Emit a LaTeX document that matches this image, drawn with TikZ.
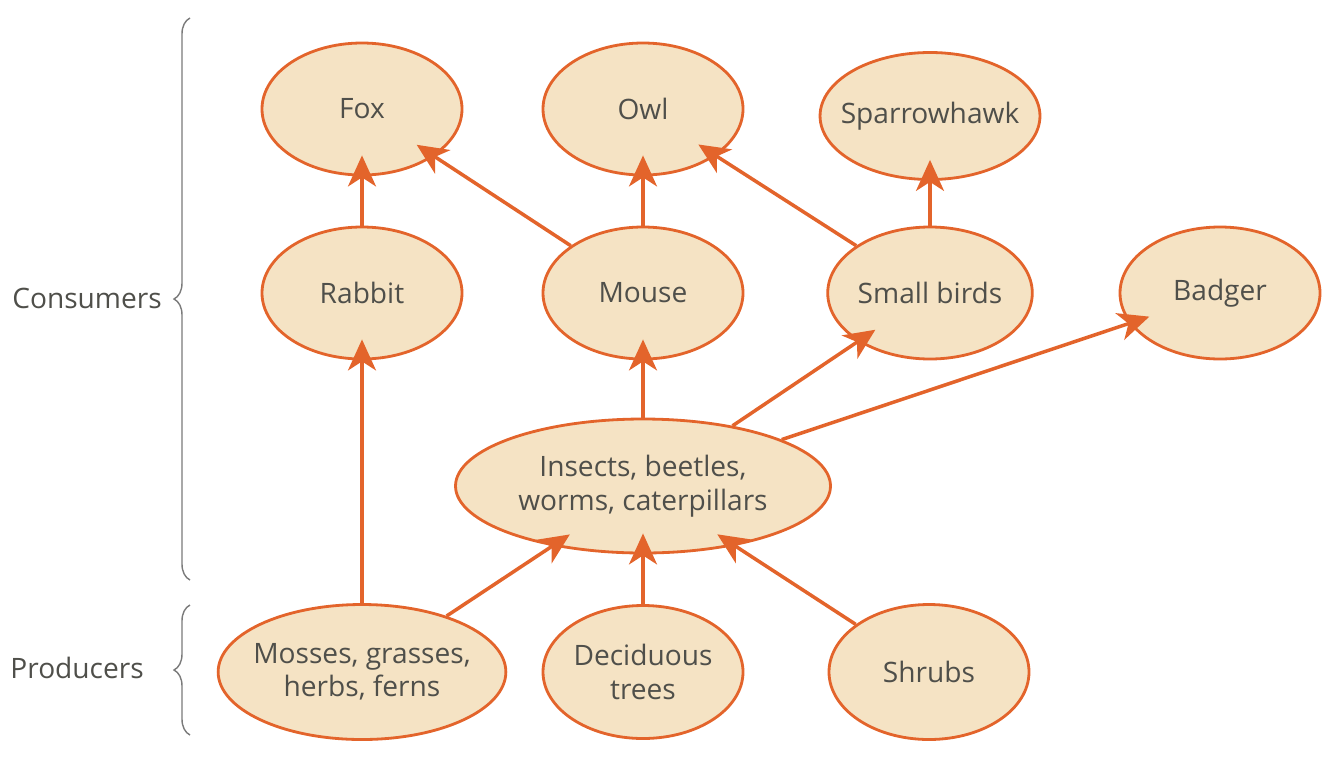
\documentclass[tikz,border=0pt]{standalone}
\usepackage{fontspec}
\setmainfont{Open Sans}
\usepackage{tikz}
\usetikzlibrary{shapes.geometric, arrows.meta, positioning, decorations.pathreplacing}
\definecolor{webfill}{HTML}{F5E3C4}
\definecolor{weborange}{HTML}{E3642B}
\definecolor{webtext}{HTML}{4F4F4A}
\definecolor{bracegray}{HTML}{7A7A7A}

\begin{document}
\begin{tikzpicture}[
  on grid,
  organism/.style={ellipse, draw=weborange, line width=1.6pt, fill=webfill, minimum width=4cm,
    minimum height=2.64cm, inner sep=0pt, align=center, text=webtext, font=\fontsize{16}{19}\selectfont},
  eats/.style={-{Stealth[length=0.62cm, width=0.56cm, inset=0.18cm]}, draw=weborange, fill=weborange,
    line width=2pt, shorten >=-0.42cm},
  level/.style={anchor=east, text=webtext, font=\fontsize{16}{19}\selectfont},
  levelbrace/.style={decorate, decoration={brace, amplitude=0.32cm}, draw=bracegray, line width=0.8pt}
]
  \useasboundingbox (0,0) rectangle (26.68,-15.38);

  \node[organism] (rabbit) at (7.24,-5.86) {Rabbit};
  \node[organism, above=3.68cm of rabbit] (fox) {Fox};
  \node[organism, right=5.62cm of rabbit] (mouse) {Mouse};
  \node[organism, above=3.68cm of mouse] (owl) {Owl};
  \node[organism, right=5.74cm of mouse] (birds) {Small birds};
  \node[organism, above=3.54cm of birds, inner xsep=-0.23cm, minimum height=2.54cm] (hawk) {Sparrowhawk};
  \node[organism, right=5.8cm of birds] (badger) {Badger};

  \node[organism, below=3.86cm of mouse, minimum width=7.5cm, minimum height=2.68cm] (insects) {Insects, beetles,\\worms, caterpillars};

  \node[organism, below=3.72cm of insects, minimum height=2.66cm] (trees) {Deciduous\\trees};
  \node[organism, left=5.62cm of trees, inner xsep=-0.14cm, minimum height=2.7cm] (mosses) {Mosses, grasses,\\herbs, ferns};
  \node[organism, right=5.72cm of trees, minimum height=2.7cm] (shrubs) {Shrubs};

  \draw[eats] (rabbit) -- (fox);
  \draw[eats] (mouse) -- (fox);
  \draw[eats] (mouse) -- (owl);
  \draw[eats] (birds) -- (owl);
  \draw[eats] (birds) -- (hawk);
  \draw[eats] (insects) -- (mouse);
  \draw[eats] (insects) -- (birds);
  \draw[eats] (insects) -- (badger);
  \draw[eats] (mosses) -- (rabbit);
  \draw[eats] (mosses) -- (insects);
  \draw[eats] (trees) -- (insects);
  \draw[eats] (shrubs) -- (insects);

  \coordinate (contop) at (3.8,-0.36);
  \coordinate (conbot) at (3.8,-11.6);
  \coordinate (protop) at (3.8,-12.1);
  \coordinate (probot) at (3.8,-14.7);
  \draw[levelbrace] (conbot) -- (contop);
  \draw[levelbrace] (probot) -- (protop);
  \node[level] (consumers) at (3.36,-5.96) {Consumers};
  \node[level] (producers) at (3.0,-13.36) {Producers};
\end{tikzpicture}
\end{document}
